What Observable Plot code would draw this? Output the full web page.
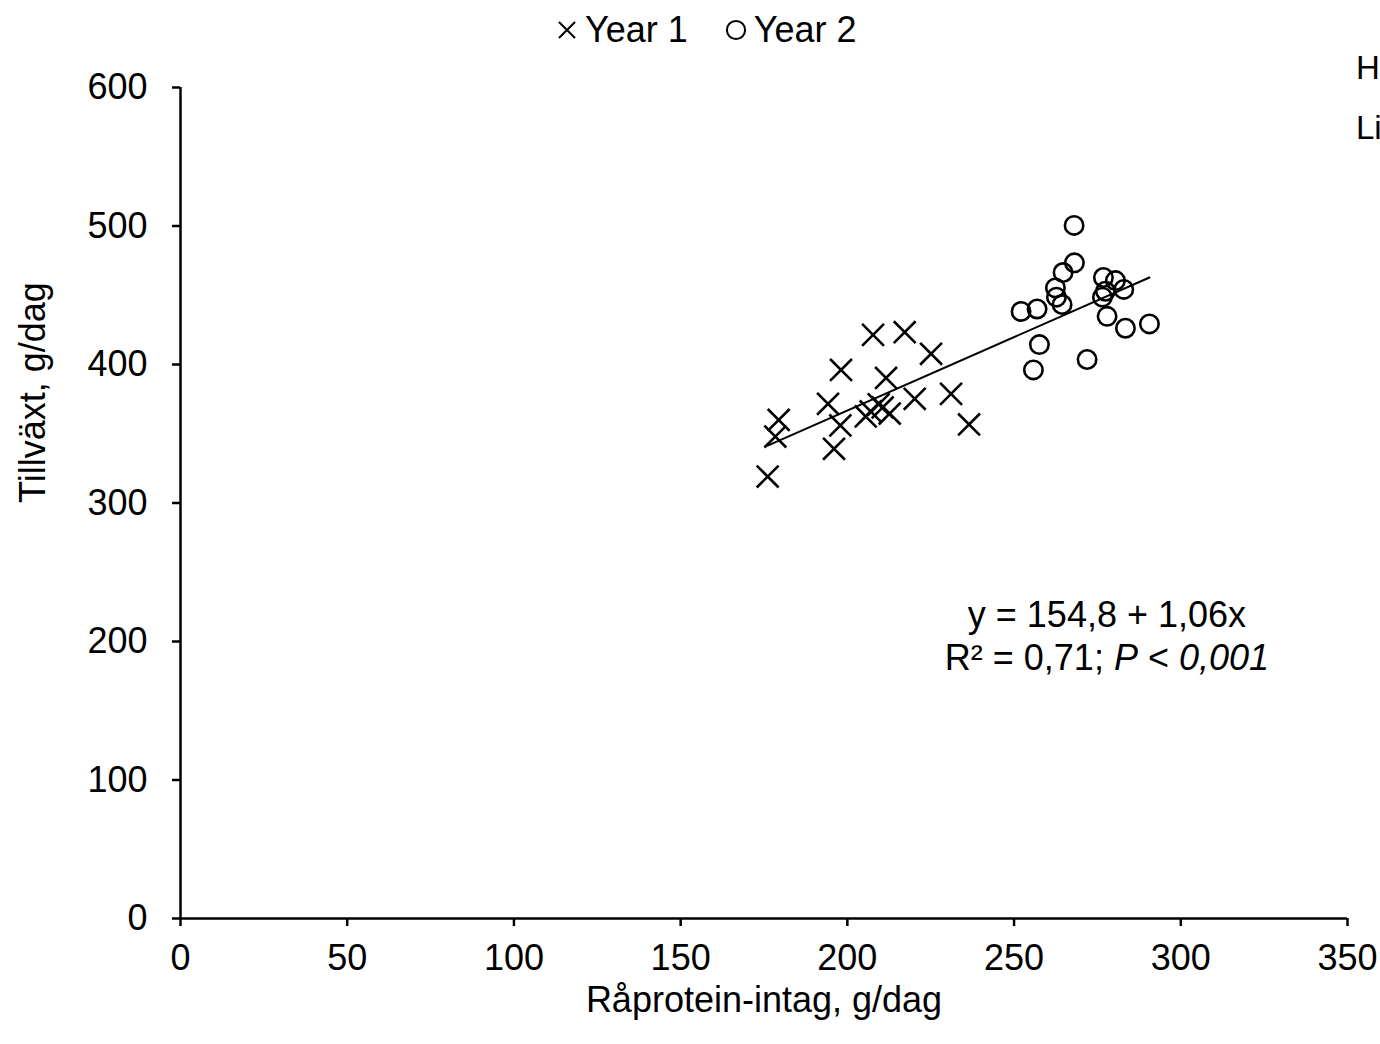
<!DOCTYPE html>
<html>
<head>
<meta charset="utf-8">
<script src="https://cdn.jsdelivr.net/npm/d3@7"></script>
<script src="https://cdn.jsdelivr.net/npm/@observablehq/plot@0.6"></script>
<style>
  html, body { margin: 0; padding: 0; background: #fff; }
  body { width: 1380px; height: 1044px; position: relative; overflow: hidden; font-family: "Liberation Sans", Arial, sans-serif; }
  #legend { position: absolute; top: 9px; left: 555px; font-size: 36px; line-height: 42px; color: #000; display: flex; align-items: center; gap: 36px; white-space: nowrap; }
  #legend span.item { display: inline-flex; align-items: center; }
  #legend svg { margin-right: 6px; }
  #side { position: absolute; left: 1356px; top: 38px; font-size: 33px; line-height: 60px; color: #000; }
  #chart { position: absolute; left: 0; top: 0; }
</style>
</head>
<body>
<div id="chart"></div>
<div id="legend"></div>
<div id="side">H<br>Li</div>
<script>
// ---- data ----
const seriesNames = ["Year 1", "Year 2"];
const year1X = [176.1, 179.4, 178.4, 196.0, 197.9, 194.2, 198.1, 207.7, 217.2, 225.1, 211.6, 220.2, 231.1, 236.5, 205.5, 207.0, 209.4, 210.6, 212.7];
const year1Y = [319.1, 360.0, 348.0, 339.1, 356.0, 371.6, 396.1, 421.4, 423.3, 407.7, 390.3, 375.2, 378.8, 356.7, 362.5, 366.1, 371.2, 369.0, 364.6];
const year2X = [268.0, 268.1, 264.7, 262.4, 262.7, 264.4, 252.1, 256.9, 257.6, 255.8, 271.9, 276.8, 280.4, 282.9, 277.4, 276.5, 277.9, 283.4, 290.6];
const year2Y = [500.4, 473.4, 466.4, 455.3, 448.6, 443.3, 438.3, 440.1, 414.4, 396.1, 403.6, 462.8, 460.6, 454.2, 452.9, 448.6, 434.8, 426.2, 429.3];
const xTicks = [0, 50, 100, 150, 200, 250, 300, 350];
const yTicks = [0, 100, 200, 300, 400, 500, 600];
const intercept = 154.8;
const slope = 1.06;
const eqLine1 = "y = 154,8 + 1,06x";
const eqAnchor = [278, 219]; // data-space centre of the equation's first line
const xLabel = "Råprotein-intag, g/dag";
const yLabel = "Tillväxt, g/dag";

// ---- build tables ----
const points = [
  ...year1X.map((x, i) => ({x, y: year1Y[i], s: seriesNames[0]})),
  ...year2X.map((x, i) => ({x, y: year2Y[i], s: seriesNames[1]}))
];
const allX = points.map(d => d.x);
const xmin = d3.min(allX), xmax = d3.max(allX);
const fit = [xmin, xmax].map(x => ({x, y: intercept + slope * x}));

const font = "Liberation Sans, Arial, sans-serif";
const fs = 36;
const chart = Plot.plot({
  width: 1380,
  height: 1044,
  marginLeft: 180,
  marginRight: 33,
  marginTop: 87,
  marginBottom: 126,
  style: {fontFamily: font, fontSize: fs + "px", color: "#000", background: "#fff", overflow: "visible"},
  x: {domain: [0, 350]},
  y: {domain: [0, 600]},
  marks: [
    Plot.axisX({ticks: xTicks, tickSize: 8, tickPadding: 18, strokeWidth: 2.5, label: null, fontSize: fs}),
    Plot.axisY({ticks: yTicks, tickSize: 8, tickPadding: 25, strokeWidth: 2.5, label: null, fontSize: fs}),
    Plot.ruleY([0], {stroke: "#000", strokeWidth: 2.5}),
    Plot.ruleX([0], {stroke: "#000", strokeWidth: 2.5}),
    Plot.text([xLabel], {frameAnchor: "bottom", lineAnchor: "middle", dy: 82, fontSize: fs, text: d => d}),
    Plot.text([yLabel], {frameAnchor: "left", lineAnchor: "middle", dx: -147, rotate: -90, fontSize: fs, text: d => d}),
    Plot.line(fit, {x: "x", y: "y", stroke: "#000", strokeWidth: 2}),
    Plot.dot(points.filter(d => d.s === seriesNames[0]), {x: "x", y: "y", symbol: "times", r: 10, stroke: "#000", strokeWidth: 2.6}),
    Plot.dot(points.filter(d => d.s === seriesNames[1]), {x: "x", y: "y", symbol: "circle", r: 9.2, stroke: "#000", fill: "none", strokeWidth: 2.6})
  ]
});
document.getElementById("chart").appendChild(chart);

// equation annotation (mixed italic) positioned through the plot scales
const sx = chart.scale("x"), sy = chart.scale("y");
const svg = d3.select(chart);
const ax = sx.apply(eqAnchor[0]), ay = sy.apply(eqAnchor[1]);
const t = svg.append("text")
  .attr("x", ax).attr("y", ay)
  .attr("text-anchor", "middle")
  .attr("font-family", font).attr("font-size", fs).attr("fill", "#000");
t.append("tspan").attr("x", ax).attr("dy", "0.35em").text(eqLine1);
const l2 = t.append("tspan").attr("x", ax).attr("dy", "1.2em");
l2.append("tspan").text("R² = 0,71; ");
l2.append("tspan").attr("font-style", "italic").text("P");
l2.append("tspan").text(" < ");
l2.append("tspan").attr("font-style", "italic").text("0,001");

// legend
const legend = document.getElementById("legend");
const symbols = [d3.symbolTimes, d3.symbolCircle];
seriesNames.forEach((name, i) => {
  const item = document.createElement("span");
  item.className = "item";
  const s = d3.create("svg").attr("width", 24).attr("height", 24);
  s.append("path")
    .attr("transform", "translate(12,12)")
    .attr("d", d3.symbol(symbols[i], i === 0 ? 170 : 260)())
    .attr("fill", "none").attr("stroke", "#000").attr("stroke-width", 2);
  item.appendChild(s.node());
  item.appendChild(document.createTextNode(name));
  legend.appendChild(item);
});
</script>
</body>
</html>
